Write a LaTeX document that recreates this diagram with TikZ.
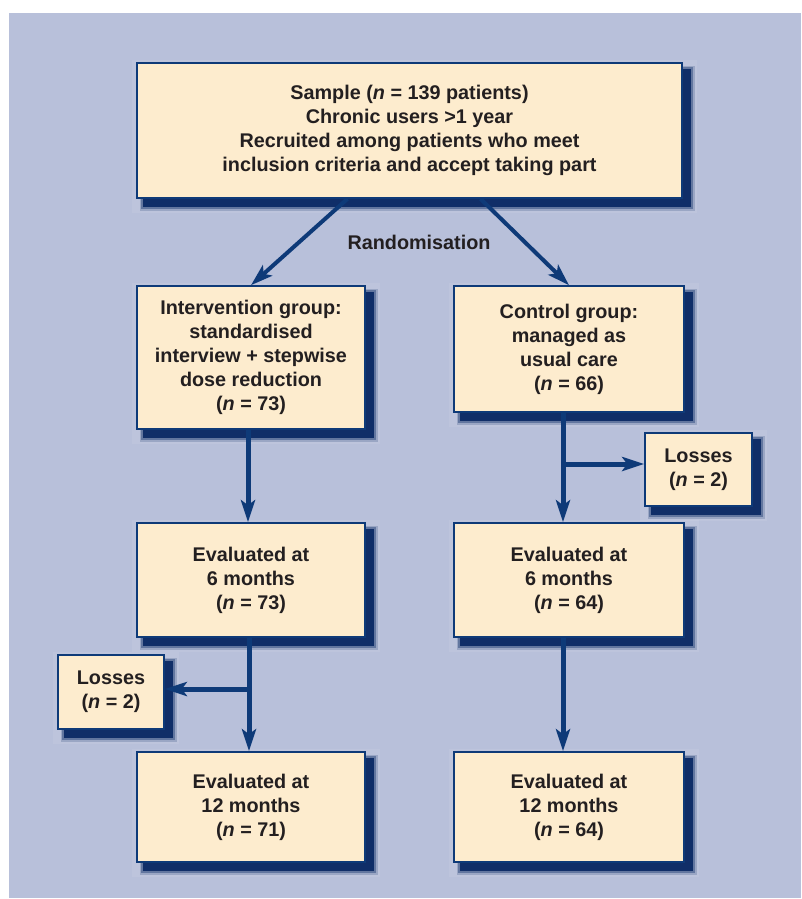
\documentclass[tikz,border=0pt]{standalone}
\usepackage{fontspec}
\setmainfont{Liberation Sans}
\usetikzlibrary{arrows.meta,backgrounds,calc}
\definecolor{bgc}{RGB}{184,192,218}
\definecolor{cream}{RGB}{253,236,206}
\definecolor{navy}{RGB}{14,58,120}
\definecolor{shad}{RGB}{16,46,104}
\definecolor{txt}{RGB}{35,31,32}
\begin{document}
\begin{tikzpicture}[x=1pt,y=-1pt,
  box/.style={draw=navy, line width=1.6pt, fill=cream, align=center,
    font=\fontsize{19.8}{24}\selectfont\bfseries, text=txt, inner sep=0pt},
  lbl/.style={font=\fontsize{19.8}{24}\selectfont\bfseries, text=txt},
  arr/.style={draw=navy, line width=5pt, -{Stealth[length=22pt,width=14pt,inset=5pt]}},
  darr/.style={draw=navy, line width=4pt, -{Stealth[length=22pt,width=14pt,inset=5pt]}},
  brn/.style={draw=navy, line width=5pt}]
\useasboundingbox (0,0) rectangle (802,899);

\node[box, minimum width=545pt, minimum height=135pt] (sample) at (409.5,130.5)
  {Sample (\textit{n} = 139 patients)\\Chronic users >1 year\\Recruited among patients who meet\\inclusion criteria and accept taking part};
\node[box, minimum width=228pt, minimum height=143pt] (interv) at (251,357.5)
  {Intervention group:\\standardised\\interview + stepwise\\dose reduction\\(\textit{n} = 73)};
\node[box, minimum width=230pt, minimum height=126pt] (control) at (569,349)
  {Control group:\\managed as\\usual care\\(\textit{n} = 66)};
\node[box, minimum width=107pt, minimum height=73pt] (lossR) at (698.5,469.5)
  {Losses\\(\textit{n} = 2)};
\node[box, minimum width=228pt, minimum height=114pt] (evsixL) at (251,580)
  {Evaluated at\\6 months\\(\textit{n} = 73)};
\node[box, minimum width=230pt, minimum height=114pt] (evsixR) at (569,580)
  {Evaluated at\\6 months\\(\textit{n} = 64)};
\node[box, minimum width=106pt, minimum height=74pt] (lossL) at (111,692)
  {Losses\\(\textit{n} = 2)};
\node[box, minimum width=228pt, minimum height=110pt] (evtwL) at (251,807)
  {Evaluated at\\12 months\\(\textit{n} = 71)};
\node[box, minimum width=230pt, minimum height=110pt] (evtwR) at (569,807)
  {Evaluated at\\12 months\\(\textit{n} = 64)};
\node[lbl] (rand) at (419,242) {Randomisation};

\begin{pgfonlayer}{background}
  \fill[bgc] (9,13) rectangle (801,898);
  \foreach \n in {sample,interv,control,lossR,evsixL,evsixR,lossL,evtwL,evtwR} {
    \fill[white, opacity=0.08] ([shift={(-4,-2)}]\n.north west) rectangle ([shift={(14,14)}]\n.south east);
    \fill[shad, opacity=0.2] ([shift={(4,4)}]\n.north west) rectangle ([shift={(12,12)}]\n.south east);
    \fill[shad, opacity=0.4] ([shift={(5,5)}]\n.north west) rectangle ([shift={(10.5,10.5)}]\n.south east);
    \fill[shad] ([shift={(7,7)}]\n.north west) rectangle ([shift={(8,8)}]\n.south east);
  }
\end{pgfonlayer}

% connectors
\draw[darr] ([xshift=-62pt]sample.south) -- (interv.north);
\draw[darr] ([xshift=71pt]sample.south) -- (control.north);
\draw[arr] ([xshift=-3pt]interv.south) -- ([xshift=-3pt]evsixL.north);
\draw[arr] ([xshift=-6pt]control.south) -- ([xshift=-6pt]evsixR.north);
\coordinate (bR) at (563,464);
\draw[arr] (bR) -- (bR -| lossR.west);
\draw[arr] ([xshift=-2pt]evsixL.south) -- ([xshift=-2pt]evtwL.north);
\coordinate (bL) at (249,689);
\draw[arr] (bL) -- (bL -| lossL.east);
\draw[arr] ([xshift=-6pt]evsixR.south) -- ([xshift=-6pt]evtwR.north);
\end{tikzpicture}
\end{document}
